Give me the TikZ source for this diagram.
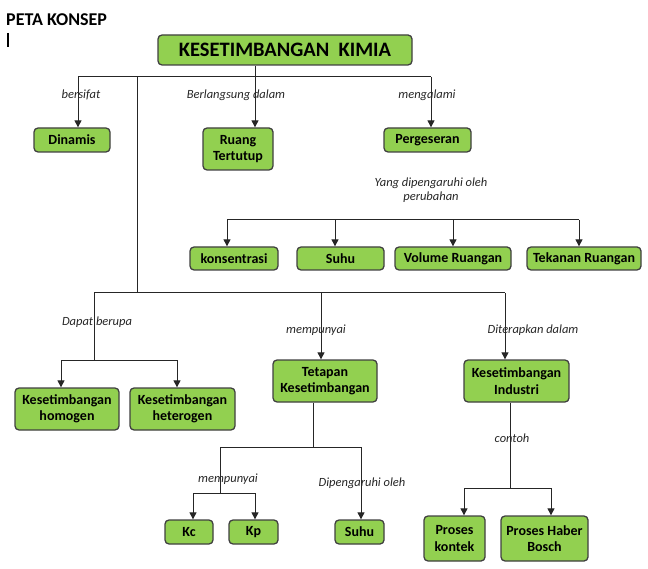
\documentclass[tikz,border=0pt]{standalone}
\usepackage{fontspec}
\setmainfont{Carlito}
\usetikzlibrary{arrows.meta}
\definecolor{boxgreen}{HTML}{92D050}
\definecolor{boxedge}{HTML}{404040}
\definecolor{linec}{HTML}{262626}
\tikzset{
  cbox/.style={draw=boxedge, line width=1.3pt, fill=boxgreen, rounded corners=4pt,
    font=\bfseries\fontsize{14}{16.5}\selectfont, align=center, inner sep=0pt,
    text=black},
  lbl/.style={font=\itshape\fontsize{12.5}{14}\selectfont, inner sep=0pt, text=black!85},
  conn/.style={draw=linec, line width=1pt},
  arr/.style={conn, -{Triangle[width=7pt,length=7pt]}},
}
\newcommand{\bx}[5]{\node[cbox, minimum width=#3pt, minimum height=#4pt] (#1) at (#2) {#5};}
\begin{document}
\begin{tikzpicture}[x=1pt,y=-1pt]
\useasboundingbox (0,0) rectangle (648,569);
% title
\node[anchor=west, font=\bfseries\fontsize{18}{20}\selectfont, inner sep=0pt] (title) at (6,20) {PETA KONSEP};
\coordinate (cur1) at (8,33); \coordinate (cur2) at (8,47);
\draw[line width=1.6pt] (cur1) -- (cur2);

% boxes
\node[cbox, minimum width=254pt, minimum height=30pt, font=\bfseries\fontsize{20.5}{23}\selectfont] (main) at (285,50) {KESETIMBANGAN\ \ KIMIA};
\bx{dinamis}{72,140}{76}{24}{Dinamis}
\bx{ruang}{238,149}{70}{42}{Ruang\\Tertutup}
\bx{perg}{427.5,140}{87}{24}{Pergeseran}
\bx{kons}{234,258.5}{88}{23}{konsentrasi}
\bx{suhu}{340.5,258.5}{87}{23}{Suhu}
\bx{vol}{453,258.5}{116}{23}{Volume Ruangan}
\bx{tek}{584,258.5}{114}{23}{Tekanan Ruangan}
\bx{homo}{67,409}{104}{42}{Kesetimbangan\\homogen}
\bx{hetero}{182.5,409}{105}{42}{Kesetimbangan\\heterogen}
\bx{tetapan}{325,381}{104}{42}{Tetapan\\Kesetimbangan}
\bx{industri}{516.5,381}{105}{42}{Kesetimbangan\\Industri}
\bx{kc}{189,532}{48}{24}{Kc}
\bx{kp}{253.5,532}{49}{24}{Kp}
\bx{suhub}{359.5,532}{49}{24}{Suhu}
\bx{kontek}{454.5,538.5}{61}{45}{Proses\\kontek}
\bx{haber}{544.5,538.5}{87}{45}{Proses Haber\\Bosch}

% top level connectors
\coordinate (t1) at (78,77);
\coordinate (t2) at (431,77);
\coordinate (tv) at (137,77);
\draw[conn] (t1) -- (t2);
\draw[arr] (t1) -- (t1 |- dinamis.north);
\draw[arr] (t2) -- (t2 |- perg.north);
\draw[arr] (main.south -| 255,0) -- (255,0 |- ruang.north);

% group of four
\coordinate (g1) at (227,220);
\coordinate (g4) at (579,220);
\draw[conn] (g1) -- (g4);
\draw[arr] (g1) -- (g1 |- kons.north);
\draw[arr] (335,220) -- (335,0 |- suhu.north);
\draw[arr] (453,220) -- (453,0 |- vol.north);
\draw[arr] (g4) -- (g4 |- tek.north);

% lower trunk
\coordinate (m1) at (94,293);
\coordinate (m2) at (505,293);
\coordinate (mv) at (137,293);
\draw[conn] (tv) -- (mv);
\draw[conn] (m1) -- (m2);
\coordinate (h1) at (61,360);
\coordinate (h2) at (177,360);
\draw[conn] (m1) -- (94,360);
\draw[conn] (h1) -- (h2);
\draw[arr] (h1) -- (h1 |- homo.north);
\draw[arr] (h2) -- (h2 |- hetero.north);
\draw[arr] (321,293) -- (321,0 |- tetapan.north);
\draw[arr] (m2) -- (m2 |- industri.north);

% tetapan branch
\coordinate (k1) at (220,447);
\coordinate (k2) at (361,447);
\draw[conn] (tetapan.south -| 313,0) -- (313,447);
\draw[conn] (k1) -- (k2);
\draw[conn] (k1) -- (220,493);
\coordinate (p1) at (193,493);
\coordinate (p2) at (255,493);
\draw[conn] (p1) -- (p2);
\draw[arr] (p1) -- (p1 |- kc.north);
\draw[arr] (p2) -- (p2 |- kp.north);
\draw[arr] (k2) -- (k2 |- suhub.north);

% industri branch
\coordinate (q1) at (464,488);
\coordinate (q2) at (551,488);
\draw[conn] (industri.south -| 510,0) -- (510,488);
\draw[conn] (q1) -- (q2);
\draw[arr] (q1) -- (q1 |- kontek.north);
\draw[arr] (q2) -- (q2 |- haber.north);

% labels
\node[lbl] (l1) at (81,95) {bersifat};
\node[lbl] (l2) at (236,95) {Berlangsung dalam};
\node[lbl] (l3) at (427,95) {mengalami};
\node[lbl] (l4) at (431,183) {Yang dipengaruhi oleh};
\node[lbl] (l5) at (431,197) {perubahan};
\node[lbl] (l6) at (97,322) {Dapat berupa};
\node[lbl] (l7) at (316,330) {mempunyai};
\node[lbl] (l8) at (533,330) {Diterapkan dalam};
\node[lbl] (l9) at (228,479) {mempunyai};
\node[lbl] (l10) at (362,483) {Dipengaruhi oleh};
\node[lbl] (l11) at (512,438) {contoh};
\end{tikzpicture}
\end{document}
